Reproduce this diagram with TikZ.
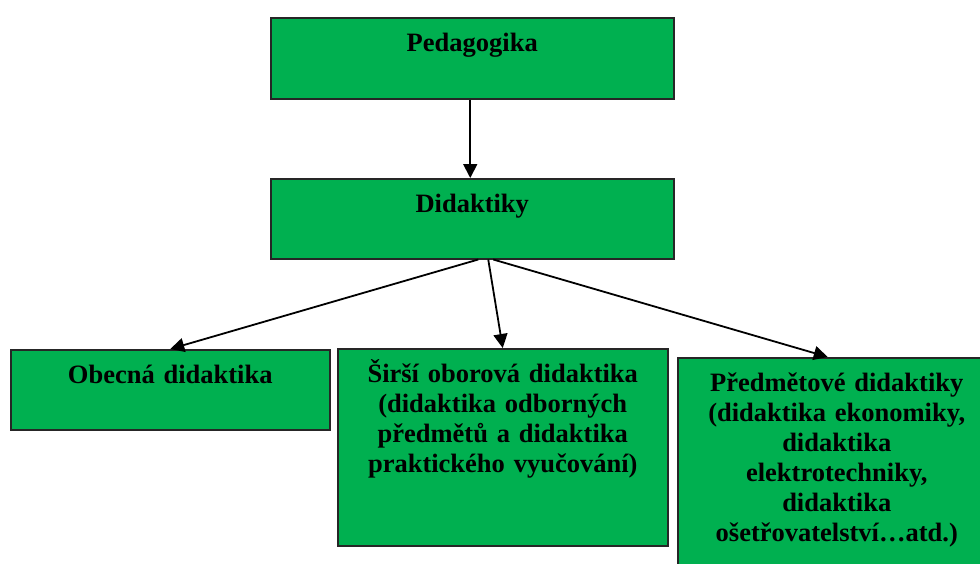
\documentclass[tikz,border=0pt]{standalone}
\usepackage{fontspec}
\setmainfont{Liberation Serif}
\usetikzlibrary{arrows.meta, positioning}
\definecolor{boxgreen}{RGB}{0,176,80}
\tikzset{
  box/.style={draw=black!85, line width=1.5pt, fill=boxgreen, inner sep=0pt,
    anchor=north west, align=center, text height=34pt,
    font=\bfseries\fontsize{26.5}{30}\selectfont},
  link/.style={line width=1.8pt, -{Triangle[length=14pt,width=14pt]}}
}

\begin{document}
\begin{tikzpicture}[x=1pt, y=-1pt]
  \clip (0,0) rectangle (980,563);
  \fill[white] (0,0) rectangle (980,563);

  % boxes
  \node[box, text width=403pt, text depth=47pt] (ped) at (270,17) {Pedagogika};
  \node[box, text width=403pt, text depth=46pt] (did) at (270,178) {Didaktiky};
  \node[box, text width=319pt, text depth=46pt] (obe) at (10,349) {Obecná didaktika};
  \node[box, text width=330pt, text depth=163pt] (sir) at (337,348)
    {Širší oborová didaktika\\(didaktika odborných\\předmětů a didaktika\\praktického vyučování)};
  \node[box, text width=318pt, text depth=200pt] (pre) at (677,357)
    {Předmětové didaktiky\\(didaktika ekonomiky,\\didaktika\\elektrotechniky,\\didaktika\\ošetřovatelství…atd.)};

  % arrows
  \draw[link] ([xshift=-2pt]ped.south) -- ([xshift=-2pt]did.north);
  \draw[link] ([xshift=6pt]did.south) -- (obe.north);
  \draw[link] ([xshift=16pt]did.south) -- (sir.north);
  \draw[link] ([xshift=21pt]did.south) -- ([xshift=-9pt]pre.north);
\end{tikzpicture}
\end{document}
